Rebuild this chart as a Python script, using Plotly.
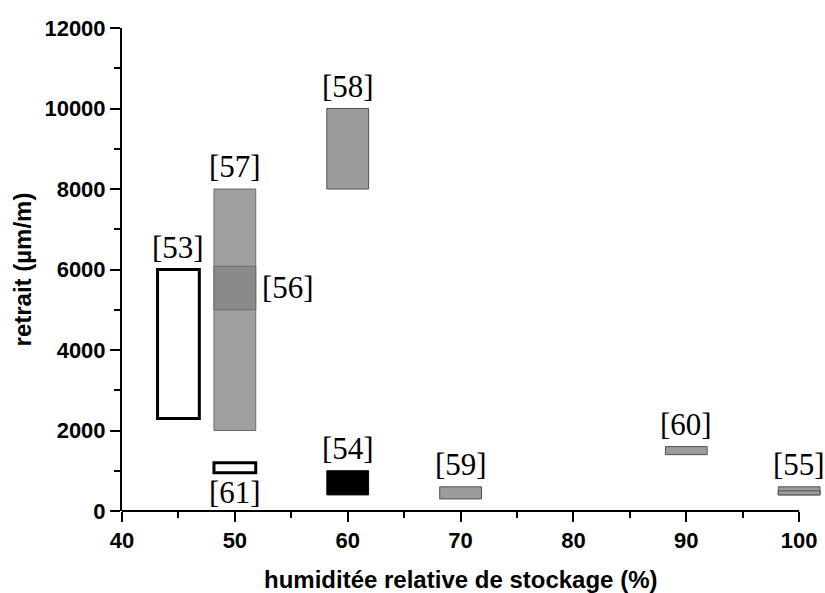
import plotly.graph_objects as go

# Data: one box per reference (RH centre, low / high shrinkage in µm/m)
refs = ["[53]", "[57]", "[56]", "[58]", "[61]", "[54]", "[59]", "[60]", "[55]", "[55]"]
rh = [45, 50, 50, 60, 50, 60, 70, 90, 100, 100]
low = [2300, 2000, 5000, 8000, 950, 400, 300, 1400, 400, 400]
high = [6000, 8000, 6080, 10000, 1200, 1000, 600, 1600, 600, 500]
fills = ["white", "#a0a0a0", "#8a8a8a", "#9c9c9c", "white", "black", "#9c9c9c", "#9c9c9c", "#9c9c9c", "#9c9c9c"]
edges = ["black", "#6a6a6a", "#6a6a6a", "#505050", "black", "black", "#505050", "#505050", "#505050", "#505050"]
edge_w = [3, 1, 1, 1, 3, 1, 1, 1, 1, 1]

# Label placement: (ref, x, y, anchor)
labels = [
    ("[53]", 45, 6000, "above"),
    ("[57]", 50, 8000, "above"),
    ("[56]", 50, 5550, "right"),
    ("[58]", 60, 10000, "above"),
    ("[61]", 50, 950, "below"),
    ("[54]", 60, 1000, "above"),
    ("[59]", 70, 600, "above"),
    ("[60]", 90, 1600, "above"),
    ("[55]", 100, 600, "above"),
]

x_min, x_max, x_view = 40, 100, 102.2  # axis drawn 40-100, room kept for the box at 100

fig = go.Figure()

for i in range(len(refs)):
    fig.add_trace(go.Bar(
        x=[rh[i]],
        y=[high[i] - low[i]],
        base=[low[i]],
        width=3.7,
        marker=dict(color=fills[i], line=dict(color=edges[i], width=edge_w[i])),
        showlegend=False,
        hoverinfo="skip",
    ))

serif = dict(family="Liberation Serif, Times New Roman, serif", size=31, color="black")
for txt, x, y, pos in labels:
    if pos == "above":
        fig.add_annotation(x=x, y=y, text=txt, showarrow=False, yanchor="bottom", yshift=3, font=serif)
    elif pos == "below":
        fig.add_annotation(x=x, y=y, text=txt, showarrow=False, yanchor="top", font=serif)
    else:
        fig.add_annotation(x=x + 1.85, y=y, text=txt, showarrow=False, xanchor="left", xshift=4, font=serif)

sans = "Liberation Sans, Arial, sans-serif"
axis_font = dict(family=sans, size=22, color="black", weight="bold")
title_font = dict(family=sans, size=24, color="black", weight="bold")

axis_frac = (x_max - x_min) / (x_view - x_min)
# x axis line stops at 100 like the original
fig.add_shape(type="line", xref="paper", yref="paper", x0=0, x1=axis_frac, y0=0, y1=0,
              line=dict(color="black", width=2))
# x axis title centred under the 40-100 span
fig.add_annotation(xref="paper", yref="paper", x=axis_frac / 2, y=0, yanchor="top", yshift=-53,
                   text="humiditée relative de stockage (%)", showarrow=False, font=title_font)

fig.update_layout(
    width=825, height=593,
    margin=dict(l=122, r=1, t=28, b=82, autoexpand=False),
    plot_bgcolor="white", paper_bgcolor="white",
    barmode="overlay",
    xaxis=dict(
        range=[x_min, x_view], dtick=10, tick0=40,
        showline=False,
        ticks="outside", ticklen=10, tickwidth=2, tickcolor="black",
        minor=dict(dtick=5, ticks="outside", ticklen=6, tickwidth=2, tickcolor="black"),
        showgrid=False, zeroline=False,
        tickfont=axis_font,
    ),
    yaxis=dict(
        range=[0, 12000], dtick=2000, tickformat="d",
        showline=True, linecolor="black", linewidth=2,
        ticks="outside", ticklen=10, tickwidth=2, tickcolor="black",
        minor=dict(dtick=1000, ticks="outside", ticklen=6, tickwidth=2, tickcolor="black"),
        showgrid=False, zeroline=False,
        tickfont=axis_font,
        title=dict(text="retrait (µm/m)", standoff=6, font=title_font),
    ),
)

fig.write_html("out.html", config={"displayModeBar": False},
               post_script="document.body.style.margin='0';document.body.style.overflow='hidden';")
